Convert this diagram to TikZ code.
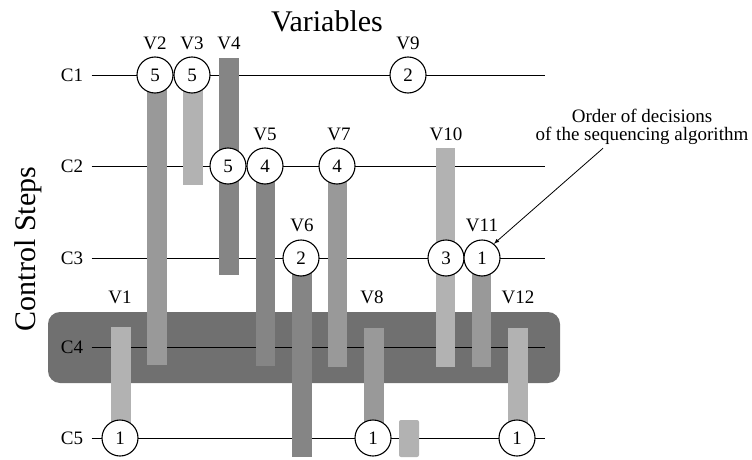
\documentclass[tikz,border=0pt]{standalone}
\usepackage{fontspec}
\setmainfont{Liberation Serif}
\newfontfamily\labelfont{Liberation Serif}
\usetikzlibrary{arrows}

\definecolor{bardark}{gray}{0.52}
\definecolor{barmid}{gray}{0.60}
\definecolor{barlight}{gray}{0.70}
\definecolor{busystep}{gray}{0.44}

\begin{document}
\begin{tikzpicture}[
    x=1pt,
    y=-1pt,
    every node/.style={
        font=\labelfont\fontsize{19}{18}\selectfont,
        align=center
    },
    stepline/.style={draw, line width=1pt},
    order/.style={
        circle,
        draw,
        fill=white,
        line width=1.1pt,
        minimum size=36pt,
        inner sep=0pt
    },
    heading/.style={font=\labelfont\fontsize{30}{32}\selectfont}
]

\useasboundingbox (0,0) rectangle (752,460);

% the crowded control step
\fill[busystep, rounded corners=12pt] (48,312) rectangle (560,383);

% control steps
\foreach \row/\ypos in {1/75,2/166,3/258,4/347,5/438} {
    \node (c\row) at (72,\ypos) {C\row};
    \coordinate (c\row end) at (545,\ypos);
    \draw[stepline, shorten <=5pt] (c\row.east) -- (c\row end);
}

% lifetimes of the variables
\fill[barmid]   (147,75)  rectangle (167,365); % V2
\fill[barlight] (183,75)  rectangle (203,185); % V3
\fill[bardark]  (219,58)  rectangle (239,275); % V4
\fill[bardark]  (256,166) rectangle (275,366); % V5
\fill[bardark]  (292,258) rectangle (312,457); % V6
\fill[barmid]   (328,166) rectangle (347,367); % V7
\fill[barmid]   (364,328) rectangle (384,438); % V8
\fill[barlight, rounded corners=2pt] (399,420) rectangle (419,457);
\fill[barlight] (436,148) rectangle (455,367); % V10
\fill[barmid]   (472,258) rectangle (491,367); % V11
\fill[barlight] (508,328) rectangle (528,438); % V12
\fill[barlight] (111,327) rectangle (131,438); % V1

% decisions
\node[order] (v2)  at (155,75)  {5};
\node[order] (v3)  at (192,75)  {5};
\node[order] (v9)  at (408,75)  {2};
\node[order] (v4)  at (228,166) {5};
\node[order] (v5)  at (265,166) {4};
\node[order] (v7)  at (337,166) {4};
\node[order] (v6)  at (301,258) {2};
\node[order] (v10) at (446,258) {3};
\node[order] (v11) at (482,258) {1};
\node[order] (v1)  at (120,438) {1};
\node[order] (v8)  at (373,438) {1};
\node[order] (v12) at (517,438) {1};

% variable names
\node (lv2)  at (155,43)  {V2};
\node (lv3)  at (192,43)  {V3};
\node (lv4)  at (229,43)  {V4};
\node (lv9)  at (408,43)  {V9};
\node (lv5)  at (265,134) {V5};
\node (lv7)  at (339,134) {V7};
\node (lv10) at (446,134) {V10};
\node (lv6)  at (302,225) {V6};
\node (lv11) at (482,225) {V11};
\node (lv1)  at (120,297) {V1};
\node (lv8)  at (372,297) {V8};
\node (lv12) at (518,297) {V12};

% headings
\node[heading] (vars) at (327,21) {Variables};
\node[heading, rotate=90] (steps) at (28,249) {Control Steps};

\node (note) at (642,127) {Order of decisions\\of the sequencing algorithm};
\draw[-latex, line width=0.8pt] ([xshift=-39pt]note.south) -- (v11.50);

\end{tikzpicture}
\end{document}
